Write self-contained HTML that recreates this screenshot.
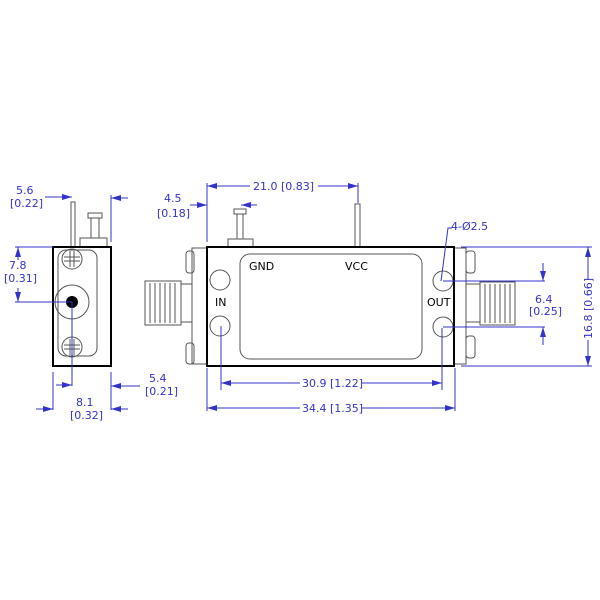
<!DOCTYPE html>
<html><head><style>body{margin:0;background:#fff}svg{display:block}</style></head><body>
<svg width="600" height="600" viewBox="0 0 600 600" xmlns="http://www.w3.org/2000/svg" font-family="DejaVu Sans, Liberation Sans, sans-serif" font-size="11">
<defs>
<marker id="a" viewBox="0 0 10 6" refX="10" refY="3" markerWidth="10" markerHeight="6" orient="auto-start-reverse" markerUnits="userSpaceOnUse"><path d="M0,0L10,3L0,6z" fill="#3333cc"/></marker>
</defs>
<g fill="none" stroke="#555" stroke-width="1">
<rect x="71" y="202" width="4" height="45"/>
<rect x="88" y="213" width="14" height="5"/>
<rect x="91" y="218" width="8" height="20"/>
<rect x="80" y="238" width="27" height="9"/>
<rect x="58" y="250" width="39" height="106" rx="8"/>
<circle cx="72" cy="259" r="10"/><path d="M70,251v16M74,251v16M64,257h16M64,261h16"/>
<circle cx="72" cy="347" r="10"/><path d="M70,339v16M74,339v16M64,345h16M64,349h16"/>
<circle cx="72" cy="302" r="17"/>
<rect x="192" y="248" width="15" height="116"/>
<rect x="186" y="251" width="8" height="22" rx="3"/>
<rect x="186" y="343" width="8" height="21" rx="3"/>
<rect x="181" y="284" width="11" height="38"/>
<rect x="145" y="281" width="36" height="44"/>
<path d="M150,283v40M155,283v40M160,283v40M165,283v40M170,283v40M175,283v40"/>
<rect x="454" y="248" width="12" height="116"/>
<rect x="466" y="251" width="9" height="22" rx="3"/>
<rect x="466" y="336" width="9" height="22" rx="3"/>
<rect x="466" y="284" width="14" height="38"/>
<rect x="480" y="282" width="35" height="43"/>
<path d="M485,284v39M490,284v39M495,284v39M500,284v39M505,284v39M510,284v39"/>
<rect x="234" y="209" width="12" height="5"/>
<rect x="237" y="214" width="6" height="25"/>
<rect x="228" y="239" width="25" height="8"/>
<rect x="355" y="204" width="5" height="43"/>
<rect x="240" y="254" width="182" height="105" rx="10"/>
<circle cx="220" cy="280" r="10"/><circle cx="220" cy="326" r="10"/>
<circle cx="443" cy="281" r="10"/><circle cx="443" cy="327" r="10"/>
</g>
<rect x="53" y="247" width="58" height="119" fill="none" stroke="#000" stroke-width="2"/>
<circle cx="72" cy="302" r="6" fill="#000"/>
<rect x="207" y="247" width="247" height="119" fill="none" stroke="#000" stroke-width="2"/>
<g fill="#000" font-size="11">
<text x="249" y="270">GND</text><text x="345" y="270">VCC</text>
<text x="215" y="306">IN</text><text x="427" y="306">OUT</text>
</g>
<g stroke="#3333cc" stroke-width="1" fill="none">
<path d="M45,197H72" marker-end="url(#a)"/>
<path d="M111,195V242"/><path d="M128,198H111" marker-end="url(#a)"/>
<path d="M15,247H53M15,302H72"/>
<path d="M18,260V247" marker-end="url(#a)"/><path d="M18,288V302" marker-end="url(#a)"/>
<path d="M72,302V386"/><path d="M56,385H72" marker-end="url(#a)"/>
<path d="M53,372V410M111,372V410"/>
<path d="M140,386H111" marker-end="url(#a)"/>
<path d="M36,409H53" marker-end="url(#a)"/><path d="M128,409H111" marker-end="url(#a)"/>
<path d="M207,183V242M358,183V203"/>
<path d="M250,186H207" marker-end="url(#a)"/><path d="M318,186H358" marker-end="url(#a)"/>
<path d="M190,205H207" marker-end="url(#a)"/>
<path d="M257,205H241" marker-end="url(#a)"/>
<path d="M221,326V390M442,328V390"/>
<path d="M300,383H221" marker-end="url(#a)"/><path d="M362,383H442" marker-end="url(#a)"/>
<path d="M207,368V411M455,368V411"/>
<path d="M300,408H207" marker-end="url(#a)"/><path d="M362,408H455" marker-end="url(#a)"/>
<path d="M461,247H592M461,366H592"/>
<path d="M588,280V247" marker-end="url(#a)"/><path d="M588,340V366" marker-end="url(#a)"/>
<path d="M443,281H545M443,327H545"/>
<path d="M543,263V281" marker-end="url(#a)"/><path d="M543,345V327" marker-end="url(#a)"/>
<path d="M452,228H448L441,281"/>
</g>
<g fill="#3333cc" font-size="11">
<text x="16" y="194">5.6</text><text x="10" y="207">[0.22]</text>
<text x="9" y="269">7.8</text><text x="4" y="282">[0.31]</text>
<text x="149" y="382">5.4</text><text x="145" y="395">[0.21]</text>
<text x="76" y="406">8.1</text><text x="70" y="419">[0.32]</text>
<text x="164" y="202">4.5</text><text x="157" y="217">[0.18]</text>
<text x="253" y="190">21.0 [0.83]</text>
<text x="302" y="387">30.9 [1.22]</text>
<text x="302" y="412">34.4 [1.35]</text>
<text x="451" y="230">4-Ø2.5</text>
<text x="535" y="303">6.4</text><text x="529" y="315">[0.25]</text>
<text transform="translate(592,339) rotate(-90)">16.8 [0.66]</text>
</g>
</svg>
</body></html>
